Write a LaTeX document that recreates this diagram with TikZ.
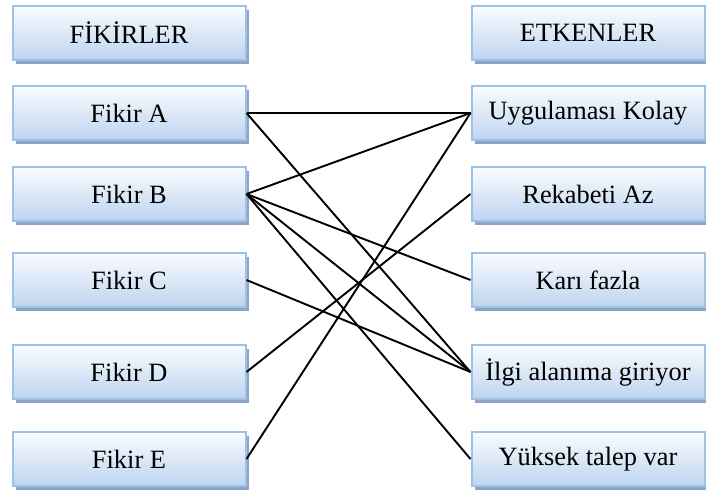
\documentclass[tikz,border=0pt]{standalone}
\usepackage{fontspec}
\setmainfont{Liberation Serif}
\usetikzlibrary{shadows}
\definecolor{boxtop}{RGB}{250,252,255}
\definecolor{boxbot}{RGB}{190,212,239}
\definecolor{boxedge}{RGB}{156,194,229}
\definecolor{shadowc}{RGB}{140,165,198}
\tikzset{
  itembox/.style={draw=boxedge, line width=1pt, top color=boxtop, bottom color=boxbot,
    minimum width=116.5pt, minimum height=27pt, inner sep=0pt,
    font=\fontsize{13.2}{15}\selectfont,
    drop shadow={shadow xshift=1.7pt, shadow yshift=-2.2pt, fill=shadowc, opacity=1}},
  link/.style={draw=black, line width=0.95pt}
}
\begin{document}
\begin{tikzpicture}[x=0.5pt, y=-0.5pt]
\useasboundingbox (0,0) rectangle (706,489);
\node[itembox] (fh) at (129,33) {FİKİRLER};
\node[itembox] (fa) at (129,113) {Fikir A};
\node[itembox] (fb) at (129,194) {Fikir B};
\node[itembox] (fc) at (129,280) {Fikir C};
\node[itembox] (fd) at (129,372) {Fikir D};
\node[itembox] (fe) at (129,459) {Fikir E};
\node[itembox] (eh) at (588,33) {ETKENLER};
\node[itembox] (e1) at (588,113) {Uygulaması Kolay};
\node[itembox] (e2) at (588,194) {Rekabeti Az};
\node[itembox] (e3) at (588,280) {Karı fazla};
\node[itembox] (e4) at (588,372) {İlgi alanıma giriyor};
\node[itembox] (e5) at (588,459) {Yüksek talep var};
\draw[link] (fa.east) -- (e1.west);
\draw[link] (fa.east) -- (e4.west);
\draw[link] (fb.east) -- (e1.west);
\draw[link] (fb.east) -- (e3.west);
\draw[link] (fb.east) -- (e4.west);
\draw[link] (fb.east) -- (e5.west);
\draw[link] (fc.east) -- (e4.west);
\draw[link] (fd.east) -- (e2.west);
\draw[link] (fe.east) -- (e1.west);
\end{tikzpicture}
\end{document}
